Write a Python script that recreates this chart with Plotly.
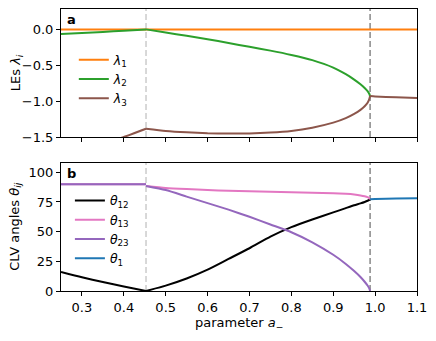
import plotly.graph_objects as go

# --- data ---
a_split = 0.453      # first dashed line
a_merge = 0.988      # second dashed line

a_full = [0.25, 1.1]
lam1 = [0.0, 0.0]

a_left = [0.25, 0.30, 0.35, 0.40, 0.453]
lam2_left = [-0.065, -0.05, -0.035, -0.018, 0.0]
lam3_left = [-1.79, -1.69, -1.59, -1.50, -1.385]

a_mid = [0.453, 0.50, 0.55, 0.60, 0.65, 0.70, 0.75, 0.80, 0.85, 0.90,
         0.93, 0.95, 0.965, 0.975, 0.982, 0.986, 0.988]
lam2_mid = [0.0, -0.045, -0.09, -0.137, -0.19, -0.243, -0.296, -0.356, -0.428, -0.532,
            -0.625, -0.70, -0.765, -0.818, -0.862, -0.898, -0.93]
lam3_mid = [-1.385, -1.415, -1.435, -1.448, -1.452, -1.45, -1.438, -1.415, -1.37, -1.30,
            -1.237, -1.178, -1.122, -1.072, -1.022, -0.972, -0.93]

a_right = [0.988, 1.0, 1.05, 1.1]
lam23_right = [-0.93, -0.935, -0.947, -0.958]

th12_left = [16, 11.5, 7.5, 3.8, 0]
a_th = [0.453, 0.50, 0.55, 0.60, 0.65, 0.70, 0.75, 0.80, 0.85, 0.90,
        0.93, 0.95, 0.965, 0.975, 0.982, 0.986, 0.988]
th12_mid = [0, 4.5, 10.5, 18, 27, 36, 45.8, 53.8, 60.2, 66.2,
            69.8, 72.2, 73.8, 75.0, 76.0, 76.7, 77.2]
th13_mid = [88.5, 86.8, 85.8, 85.0, 84.5, 84.0, 83.6, 83.2, 82.8, 82.4,
            81.8, 81.2, 80.5, 79.8, 79.0, 78.2, 77.2]
th23_mid = [88.5, 85.0, 79.5, 74, 68.5, 62.5, 56, 49.5, 41, 30.5,
            22.8, 16.8, 11.8, 7.8, 4.6, 2.2, 0]
th_flat_left = [90, 90, 90, 90, 90]
th1_right = [77.2, 77.4, 77.8, 78.1]

ORANGE, GREEN, BROWN = "#ff7f0e", "#2ca02c", "#8c564b"
PINK, PURPLE, BLUE = "#e377c2", "#9467bd", "#1f77b4"
FONT = "DejaVu Sans"
FS = 13

fig = go.Figure()


def add(x, y, color, name, show, legend, xa, ya):
    fig.add_trace(go.Scatter(
        x=x, y=y, mode="lines", line=dict(color=color, width=2, shape="spline", smoothing=0.6),
        name=name, legendgroup=name, showlegend=show, legend=legend,
        xaxis=xa, yaxis=ya))


# panel a
add(a_full, lam1, ORANGE, "<i>λ</i><sub>1</sub>", True, "legend", "x", "y")
add(a_left, lam2_left, GREEN, "<i>λ</i><sub>2</sub>", True, "legend", "x", "y")
add(a_mid, lam2_mid, GREEN, "<i>λ</i><sub>2</sub>", False, "legend", "x", "y")
add(a_left, lam3_left, BROWN, "<i>λ</i><sub>3</sub>", True, "legend", "x", "y")
add(a_mid, lam3_mid, BROWN, "<i>λ</i><sub>3</sub>", False, "legend", "x", "y")
add(a_right, lam23_right, BROWN, "<i>λ</i><sub>3</sub>", False, "legend", "x", "y")

# panel b
add(a_left, th12_left, "black", "<i>θ</i><sub>12</sub>", True, "legend2", "x2", "y2")
add(a_th, th12_mid, "black", "<i>θ</i><sub>12</sub>", False, "legend2", "x2", "y2")
add(a_left, th_flat_left, PINK, "<i>θ</i><sub>13</sub>", True, "legend2", "x2", "y2")
add(a_th, th13_mid, PINK, "<i>θ</i><sub>13</sub>", False, "legend2", "x2", "y2")
add(a_left, th_flat_left, PURPLE, "<i>θ</i><sub>23</sub>", True, "legend2", "x2", "y2")
add(a_th, th23_mid, PURPLE, "<i>θ</i><sub>23</sub>", False, "legend2", "x2", "y2")
add(a_right, th1_right, BLUE, "<i>θ</i><sub>1</sub>", True, "legend2", "x2", "y2")

axis_style = dict(showgrid=False, zeroline=False, showline=True, linecolor="black",
                  linewidth=1, mirror=True, ticks="outside", ticklen=4, tickwidth=1,
                  tickcolor="black", tickfont=dict(family=FONT, size=FS, color="black"))

# the page body has an 8px margin, so the figure is 8px smaller than the window
fig.update_layout(
    width=428, height=333,
    margin=dict(l=53, r=19, t=1, b=50),
    paper_bgcolor="white", plot_bgcolor="white",
    font=dict(family=FONT, size=FS, color="black"),
    xaxis=dict(domain=[0, 1], anchor="y", range=[0.25, 1.1], matches="x2",
               showticklabels=False, dtick=0.1, **axis_style),
    yaxis=dict(domain=[0.5461, 1], anchor="x", range=[-1.5, 0.284],
               tickvals=[-1.5, -1.0, -0.5, 0.0], tickformat=".1f", **axis_style),
    xaxis2=dict(domain=[0, 1], anchor="y2", range=[0.25, 1.1],
                tickvals=[0.3, 0.4, 0.5, 0.6, 0.7, 0.8, 0.9, 1.0, 1.1], tickformat=".1f",
                **axis_style),
    yaxis2=dict(domain=[0, 0.4539], anchor="x2", range=[0, 107.8],
                tickvals=[0, 25, 50, 75, 100], **axis_style),
    legend=dict(x=0.036, y=0.872, xanchor="left", yanchor="top", bgcolor="rgba(0,0,0,0)",
                font=dict(family=FONT, size=12.5), itemwidth=30, tracegroupgap=0),
    legend2=dict(x=0.025, y=0.373, xanchor="left", yanchor="top", bgcolor="rgba(0,0,0,0)",
                 font=dict(family=FONT, size=12.5), itemwidth=30, tracegroupgap=0),
)

# dashed markers at the two transitions
for xa, ya in (("x", "y domain"), ("x2", "y2 domain")):
    fig.add_shape(type="line", xref=xa, yref=ya, x0=a_split, x1=a_split, y0=0, y1=1,
                  line=dict(color="#cccccc", width=1.5, dash="6px,3px"), layer="below")
    fig.add_shape(type="line", xref=xa, yref=ya, x0=a_merge, x1=a_merge, y0=0, y1=1,
                  line=dict(color="#888888", width=1.5, dash="6px,3px"), layer="below")

fig.add_annotation(text="<b>a</b>", xref="x domain", yref="y domain", x=0.01, y=0.92,
                   xanchor="left", yanchor="middle", showarrow=False,
                   font=dict(family=FONT, size=FS))
fig.add_annotation(text="<b>b</b>", xref="x2 domain", yref="y2 domain", x=0.01, y=0.92,
                   xanchor="left", yanchor="middle", showarrow=False,
                   font=dict(family=FONT, size=FS))

# axis titles
fig.add_annotation(text="LEs <i>λ</i><sub><i>i</i></sub>", xref="paper", yref="y domain",
                   x=-0.123, y=0.5, xanchor="center", yanchor="middle", textangle=-90,
                   showarrow=False, font=dict(family=FONT, size=FS))
fig.add_annotation(text="CLV angles <i>θ</i><sub><i>ij</i></sub>", xref="paper", yref="y2 domain",
                   x=-0.13, y=0.5, xanchor="center", yanchor="middle", textangle=-90,
                   showarrow=False, font=dict(family=FONT, size=FS))
fig.add_annotation(text="parameter <i>a</i><sub>−</sub>", xref="x2 domain", yref="paper",
                   x=0.5, y=-0.115, xanchor="center", yanchor="middle",
                   showarrow=False, font=dict(family=FONT, size=FS))

fig.write_html("out.html")
